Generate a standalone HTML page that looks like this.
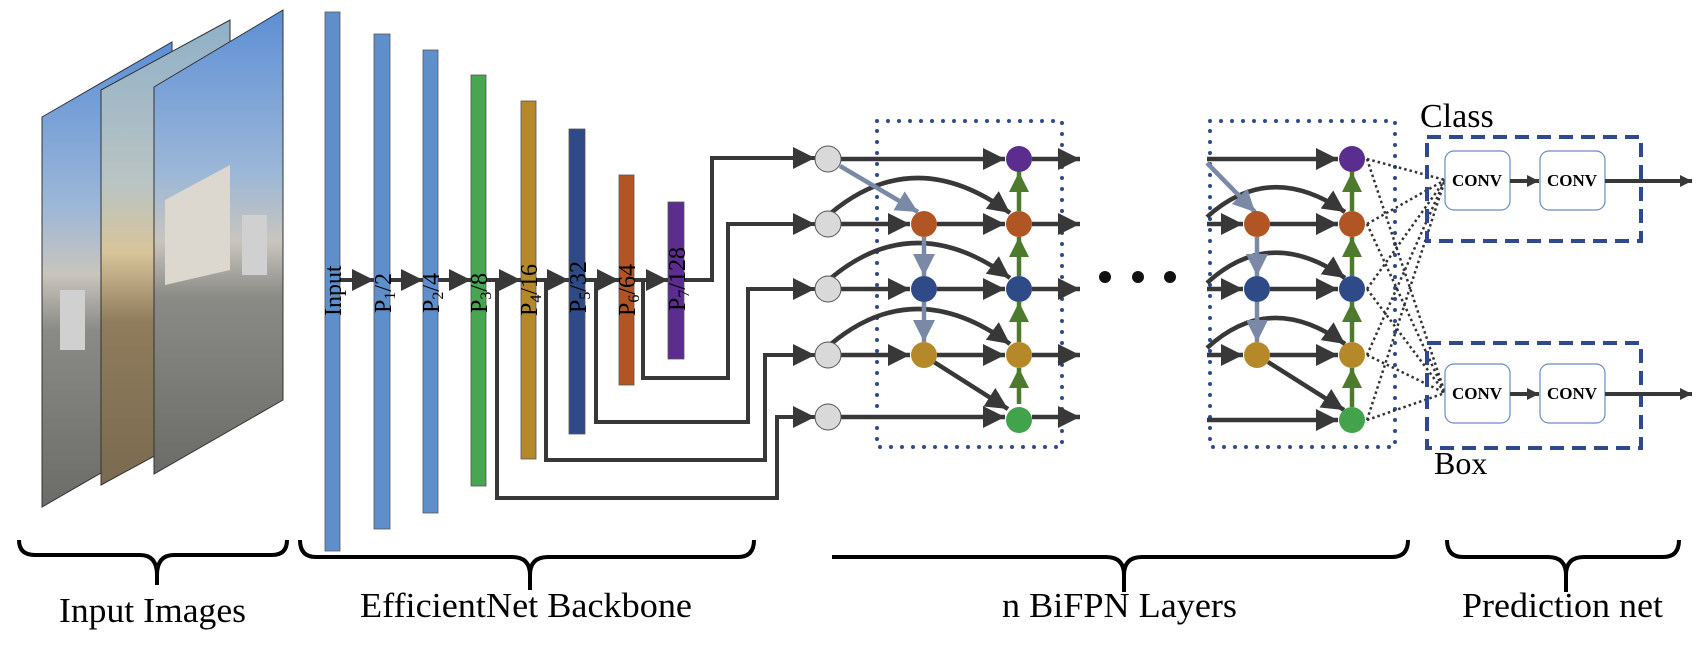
<!DOCTYPE html>
<html><head><meta charset="utf-8"><style>
html,body{margin:0;padding:0;background:#fff;}
svg{display:block;}
text{font-family:"Liberation Serif",serif;fill:#000;}
</style></head><body>
<svg width="1696" height="658" viewBox="0 0 1696 658" xmlns="http://www.w3.org/2000/svg">
<defs>
<marker id="a" markerUnits="userSpaceOnUse" markerWidth="26" markerHeight="26" refX="22" refY="11" orient="auto"><path d="M0,0 L22,11 L0,22 z" fill="#383838"/></marker>
<marker id="ab" markerUnits="userSpaceOnUse" markerWidth="26" markerHeight="26" refX="22" refY="11" orient="auto"><path d="M0,0 L22,11 L0,22 z" fill="#7a89a6"/></marker>
<marker id="ag" markerUnits="userSpaceOnUse" markerWidth="26" markerHeight="26" refX="20" refY="10" orient="auto"><path d="M0,0 L20,10 L0,20 z" fill="#4e7a2e"/></marker>
<marker id="as" markerUnits="userSpaceOnUse" markerWidth="16" markerHeight="16" refX="12" refY="6" orient="auto"><path d="M0,0 L12,6 L0,12 z" fill="#383838"/></marker>
<linearGradient id="img1" x1="0" y1="0" x2="0" y2="1">
<stop offset="0" stop-color="#5d8fd6"/><stop offset="0.35" stop-color="#9bb7d8"/><stop offset="0.5" stop-color="#c9c5bd"/><stop offset="0.62" stop-color="#8a8a86"/><stop offset="1" stop-color="#6b6b68"/></linearGradient>
<linearGradient id="img2" x1="0" y1="0" x2="0" y2="1">
<stop offset="0" stop-color="#8fb0c8"/><stop offset="0.35" stop-color="#b9c4c4"/><stop offset="0.5" stop-color="#d8c49a"/><stop offset="0.65" stop-color="#8f7c5c"/><stop offset="1" stop-color="#7a6a50"/></linearGradient>
</defs>

<!-- input images -->
<polygon points="42,117 172,42 172,432 42,507" fill="url(#img1)" stroke="#333" stroke-width="1"/>
<polygon points="101,90 230,20 230,415 101,485" fill="url(#img2)" stroke="#333" stroke-width="1"/>
<polygon points="154,87 283,10 283,400 154,474" fill="url(#img1)" stroke="#333" stroke-width="1"/>
<rect x="242" y="215" width="25" height="60" fill="#d0d0d0"/>
<rect x="60" y="290" width="25" height="60" fill="#d0d0d0"/>
<polygon points="165,200 230,165 230,270 165,285" fill="#dcd8d0"/>

<!-- backbone bars -->
<g stroke="#555" stroke-width="0.8">
<rect x="325" y="12" width="15" height="539" fill="#5f8fcb"/>
<rect x="374" y="34" width="16" height="495" fill="#5f8fcb"/>
<rect x="423" y="50" width="15" height="463" fill="#5f8fcb"/>
<rect x="471" y="75" width="15" height="411" fill="#48a550"/>
<rect x="521" y="101" width="15" height="358" fill="#b5892a"/>
<rect x="569" y="129" width="16" height="305" fill="#2e4a87"/>
<rect x="619" y="175" width="15" height="210" fill="#b05523"/>
<rect x="668" y="202" width="16" height="157" fill="#5b2d8e"/>
</g>
<g stroke="#383838" stroke-width="4" fill="none">
<line x1="340" y1="280" x2="374" y2="280" marker-end="url(#a)"/>
<line x1="390" y1="280" x2="423" y2="280" marker-end="url(#a)"/>
<line x1="438" y1="280" x2="471" y2="280" marker-end="url(#a)"/>
<line x1="486" y1="280" x2="521" y2="280" marker-end="url(#a)"/>
<line x1="536" y1="280" x2="569" y2="280" marker-end="url(#a)"/>
<line x1="585" y1="280" x2="619" y2="280" marker-end="url(#a)"/>
<line x1="634" y1="280" x2="668" y2="280" marker-end="url(#a)"/>
<polyline points="684,280 712,280 712,158 815,158" marker-end="url(#a)"/>
<polyline points="643,280 643,378 728,378 728,224 815,224" marker-end="url(#a)"/>
<polyline points="596,280 596,422 748,422 748,289 815,289" marker-end="url(#a)"/>
<polyline points="546,280 546,460 765,460 765,355 815,355" marker-end="url(#a)"/>
<polyline points="497,280 497,498 777,498 777,417 815,417" marker-end="url(#a)"/>
</g>
<g font-size="24">
<text transform="translate(341,316) rotate(-90)">Input</text>
<text transform="translate(391,313) rotate(-90)">P<tspan font-size="16" dy="4">1</tspan><tspan dy="-4">/2</tspan></text>
<text transform="translate(439,313) rotate(-90)">P<tspan font-size="16" dy="4">2</tspan><tspan dy="-4">/4</tspan></text>
<text transform="translate(487,313) rotate(-90)">P<tspan font-size="16" dy="4">3</tspan><tspan dy="-4">/8</tspan></text>
<text transform="translate(537,316) rotate(-90)">P<tspan font-size="16" dy="4">4</tspan><tspan dy="-4">/16</tspan></text>
<text transform="translate(586,313) rotate(-90)">P<tspan font-size="16" dy="4">5</tspan><tspan dy="-4">/32</tspan></text>
<text transform="translate(635,316) rotate(-90)">P<tspan font-size="16" dy="4">6</tspan><tspan dy="-4">/64</tspan></text>
<text transform="translate(685,311) rotate(-90)">P<tspan font-size="16" dy="4">7</tspan><tspan dy="-4">/128</tspan></text>
</g>

<!-- BiFPN layer 1 -->
<rect x="877" y="121" width="185" height="326" fill="none" stroke="#2e4a8c" stroke-width="4" stroke-linecap="round" stroke-dasharray="0 11"/>
<g stroke="#383838" stroke-width="4.5" fill="none">
<line x1="841" y1="159" x2="1005" y2="159" marker-end="url(#a)"/>
<line x1="841" y1="224" x2="910" y2="224" marker-end="url(#a)"/>
<line x1="841" y1="289" x2="910" y2="289" marker-end="url(#a)"/>
<line x1="841" y1="355" x2="910" y2="355" marker-end="url(#a)"/>
<line x1="937" y1="224" x2="1005" y2="224" marker-end="url(#a)"/>
<line x1="937" y1="289" x2="1005" y2="289" marker-end="url(#a)"/>
<line x1="937" y1="355" x2="1005" y2="355" marker-end="url(#a)"/>
<line x1="841" y1="417" x2="1005" y2="417" marker-end="url(#a)"/>
<path d="M831,213 Q915,143 1010,213" marker-end="url(#a)"/>
<path d="M831,278 Q915,208 1010,278" marker-end="url(#a)"/>
<path d="M831,344 Q915,274 1010,344" marker-end="url(#a)"/>
<line x1="934" y1="362" x2="1008" y2="409" marker-end="url(#a)"/>
<line x1="1032" y1="159" x2="1080" y2="159" marker-end="url(#a)"/>
<line x1="1032" y1="224" x2="1080" y2="224" marker-end="url(#a)"/>
<line x1="1032" y1="289" x2="1080" y2="289" marker-end="url(#a)"/>
<line x1="1032" y1="355" x2="1080" y2="355" marker-end="url(#a)"/>
<line x1="1032" y1="417" x2="1080" y2="417" marker-end="url(#a)"/>
</g>
<g stroke="#7a89a6" stroke-width="4.5" fill="none">
<line x1="840" y1="166" x2="918" y2="212" marker-end="url(#ab)"/>
<line x1="924" y1="237" x2="924" y2="276" marker-end="url(#ab)"/>
<line x1="924" y1="302" x2="924" y2="342" marker-end="url(#ab)"/>
</g>
<g stroke="#4e7a2e" stroke-width="4.5">
<line x1="1019" y1="404" x2="1019" y2="368" marker-end="url(#ag)"/>
<line x1="1019" y1="342" x2="1019" y2="302" marker-end="url(#ag)"/>
<line x1="1019" y1="276" x2="1019" y2="237" marker-end="url(#ag)"/>
<line x1="1019" y1="211" x2="1019" y2="172" marker-end="url(#ag)"/>
</g>
<g fill="#d9d9d9" stroke="#555" stroke-width="1">
<circle cx="828" cy="159" r="13"/><circle cx="828" cy="224" r="13"/><circle cx="828" cy="289" r="13"/><circle cx="828" cy="355" r="13"/><circle cx="828" cy="417" r="13"/>
</g>
<circle cx="924" cy="224" r="13" fill="#b05523"/><circle cx="924" cy="289" r="13" fill="#2e4a87"/><circle cx="924" cy="355" r="13" fill="#b5892a"/>
<circle cx="1019" cy="159" r="13" fill="#5b2d8e"/><circle cx="1019" cy="224" r="13" fill="#b05523"/><circle cx="1019" cy="289" r="13" fill="#2e4a87"/><circle cx="1019" cy="355" r="13" fill="#b5892a"/><circle cx="1019" cy="420" r="13" fill="#43a34c"/>

<circle cx="1105" cy="277" r="6" fill="#111"/><circle cx="1138" cy="277" r="6" fill="#111"/><circle cx="1170" cy="277" r="6" fill="#111"/>

<!-- BiFPN layer 2 -->
<rect x="1210" y="121" width="185" height="326" fill="none" stroke="#2e4a8c" stroke-width="4" stroke-linecap="round" stroke-dasharray="0 11"/>
<g stroke="#383838" stroke-width="4.5" fill="none">
<line x1="1207" y1="159" x2="1338" y2="159" marker-end="url(#a)"/>
<line x1="1207" y1="224" x2="1243" y2="224" marker-end="url(#a)"/>
<line x1="1207" y1="289" x2="1243" y2="289" marker-end="url(#a)"/>
<line x1="1207" y1="355" x2="1243" y2="355" marker-end="url(#a)"/>
<line x1="1270" y1="224" x2="1338" y2="224" marker-end="url(#a)"/>
<line x1="1270" y1="289" x2="1338" y2="289" marker-end="url(#a)"/>
<line x1="1270" y1="355" x2="1338" y2="355" marker-end="url(#a)"/>
<line x1="1207" y1="420" x2="1338" y2="420" marker-end="url(#a)"/>
<path d="M1207,217 Q1270,160 1345,212" marker-end="url(#a)"/>
<path d="M1207,283 Q1270,225 1345,278" marker-end="url(#a)"/>
<path d="M1207,348 Q1270,290 1345,344" marker-end="url(#a)"/>
<line x1="1268" y1="362" x2="1344" y2="410" marker-end="url(#a)"/>
</g>
<g stroke="#7a89a6" stroke-width="4.5" fill="none">
<line x1="1207" y1="163" x2="1255" y2="212" marker-end="url(#ab)"/>
<line x1="1257" y1="237" x2="1257" y2="276" marker-end="url(#ab)"/>
<line x1="1257" y1="302" x2="1257" y2="342" marker-end="url(#ab)"/>
</g>
<g stroke="#4e7a2e" stroke-width="4.5">
<line x1="1352" y1="407" x2="1352" y2="368" marker-end="url(#ag)"/>
<line x1="1352" y1="342" x2="1352" y2="302" marker-end="url(#ag)"/>
<line x1="1352" y1="276" x2="1352" y2="237" marker-end="url(#ag)"/>
<line x1="1352" y1="211" x2="1352" y2="172" marker-end="url(#ag)"/>
</g>
<circle cx="1257" cy="224" r="13" fill="#b05523"/><circle cx="1257" cy="289" r="13" fill="#2e4a87"/><circle cx="1257" cy="355" r="13" fill="#b5892a"/>
<circle cx="1352" cy="159" r="13" fill="#5b2d8e"/><circle cx="1352" cy="224" r="13" fill="#b05523"/><circle cx="1352" cy="289" r="13" fill="#2e4a87"/><circle cx="1352" cy="355" r="13" fill="#b5892a"/><circle cx="1352" cy="420" r="13" fill="#43a34c"/>

<g stroke="#333" stroke-width="2.5" stroke-dasharray="2.5 3" fill="none">
<line x1="1367" y1="159" x2="1445" y2="180"/><line x1="1367" y1="224" x2="1445" y2="180"/><line x1="1367" y1="289" x2="1445" y2="180"/><line x1="1367" y1="355" x2="1445" y2="180"/><line x1="1367" y1="420" x2="1445" y2="180"/>
<line x1="1367" y1="159" x2="1445" y2="393"/><line x1="1367" y1="224" x2="1445" y2="393"/><line x1="1367" y1="289" x2="1445" y2="393"/><line x1="1367" y1="355" x2="1445" y2="393"/><line x1="1367" y1="420" x2="1445" y2="393"/>
</g>

<rect x="1427" y="137" width="214" height="104" fill="none" stroke="#2e4a8c" stroke-width="4" stroke-dasharray="14 8"/>
<rect x="1427" y="343" width="214" height="105" fill="none" stroke="#2e4a8c" stroke-width="4" stroke-dasharray="14 8"/>
<g fill="#fff" stroke="#6a8ac0" stroke-width="1.2">
<rect x="1445" y="151" width="65" height="59" rx="9"/><rect x="1540" y="151" width="65" height="59" rx="9"/>
<rect x="1445" y="364" width="65" height="59" rx="9"/><rect x="1540" y="364" width="65" height="59" rx="9"/>
</g>
<g font-size="17" font-weight="bold" text-anchor="middle">
<text x="1477" y="186">CONV</text><text x="1572" y="186">CONV</text>
<text x="1477" y="399">CONV</text><text x="1572" y="399">CONV</text>
</g>
<g stroke="#383838" stroke-width="4">
<line x1="1510" y1="181" x2="1539" y2="181" marker-end="url(#as)"/>
<line x1="1510" y1="394" x2="1539" y2="394" marker-end="url(#as)"/>
<line x1="1605" y1="181" x2="1692" y2="181" marker-end="url(#as)"/>
<line x1="1605" y1="394" x2="1692" y2="394" marker-end="url(#as)"/>
</g>
<text x="1420" y="127" font-size="34">Class</text>
<text x="1434" y="474" font-size="32">Box</text>

<g stroke="#000" stroke-width="4" fill="none">
<path d="M19,540 Q19,555 35,555 L140,555 Q157,555 157,575 L157,585 M157,575 Q157,555 174,555 L272,555 Q287,555 287,540"/>
<path d="M300,540 Q300,557 316,557 L512,557 Q530,557 530,575 L530,590 M530,575 Q530,557 548,557 L738,557 Q754,557 754,540"/>
<path d="M832,557 L1106,557 Q1124,557 1124,575 L1124,592 M1124,575 Q1124,557 1142,557 L1392,557 Q1408,557 1408,540"/>
<path d="M1447,540 Q1447,557 1463,557 L1548,557 Q1566,557 1566,575 L1566,592 M1566,575 Q1566,557 1584,557 L1663,557 Q1679,557 1679,540"/>
</g>
<g font-size="35">
<text x="59" y="622" textLength="187" lengthAdjust="spacingAndGlyphs">Input Images</text>
<text x="360" y="617" textLength="332" lengthAdjust="spacingAndGlyphs">EfficientNet Backbone</text>
<text x="1002" y="617" textLength="235" lengthAdjust="spacingAndGlyphs">n BiFPN Layers</text>
<text x="1462" y="617" textLength="201" lengthAdjust="spacingAndGlyphs">Prediction net</text>
</g>
</svg>
</body></html>
